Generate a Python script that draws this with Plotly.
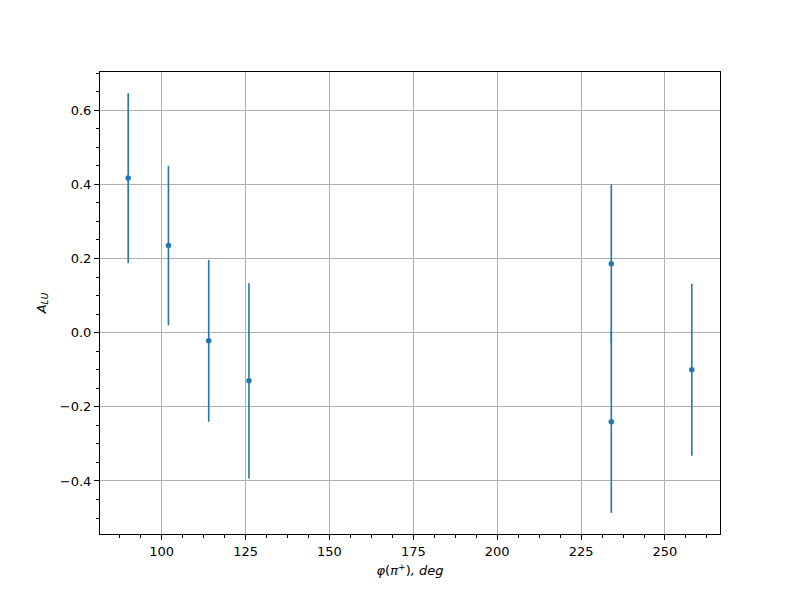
import plotly.graph_objects as go

phi = [90, 102, 114, 126, 234, 234, 258]
a_lu = [0.417, 0.235, -0.022, -0.130, 0.186, -0.240, -0.100]
a_err = [0.229, 0.215, 0.218, 0.263, 0.214, 0.246, 0.232]

x_ticks = [100, 125, 150, 175, 200, 225, 250]
y_ticks = [-0.4, -0.2, 0.0, 0.2, 0.4, 0.6]

blue = "#1f77b4"
font = dict(family="DejaVu Sans", size=13, color="black")

fig = go.Figure()
fig.add_trace(go.Scatter(
    x=phi, y=a_lu, mode="markers",
    marker=dict(color=blue, size=5.5),
    error_y=dict(type="data", array=a_err, visible=True, color=blue,
                 thickness=1.6, width=0),
    showlegend=False,
))

axis_common = dict(
    showline=True, linecolor="black", linewidth=1, mirror=True,
    ticks="outside", ticklen=5, tickwidth=1, tickcolor="black",
    showgrid=True, gridcolor="#b0b0b0", gridwidth=1,
    zeroline=False, tickfont=font,
)

fig.update_xaxes(
    range=[81.6, 266.4], tickvals=x_ticks,
    minor=dict(dtick=6.25, tick0=0, ticks="outside", ticklen=3, tickcolor="black", showgrid=False),
    title=dict(text="<i>φ</i>(<i>π</i><sup>+</sup>)<i>, deg</i>", font=font, standoff=8),
    **axis_common,
)
fig.update_yaxes(
    range=[-0.543, 0.703], tickvals=y_ticks, tickformat=".1f",
    minor=dict(dtick=0.05, tick0=0, ticks="outside", ticklen=3, tickcolor="black", showgrid=False),
    title=dict(text="<i>A</i><sub><i>LU</i></sub>", font=font, standoff=10),
    **axis_common,
)

fig.update_layout(
    width=800, height=600,
    margin=dict(l=92, r=88, t=64, b=74),
    plot_bgcolor="white", paper_bgcolor="white",
    font=font,
)

fig.write_html("out.html")
